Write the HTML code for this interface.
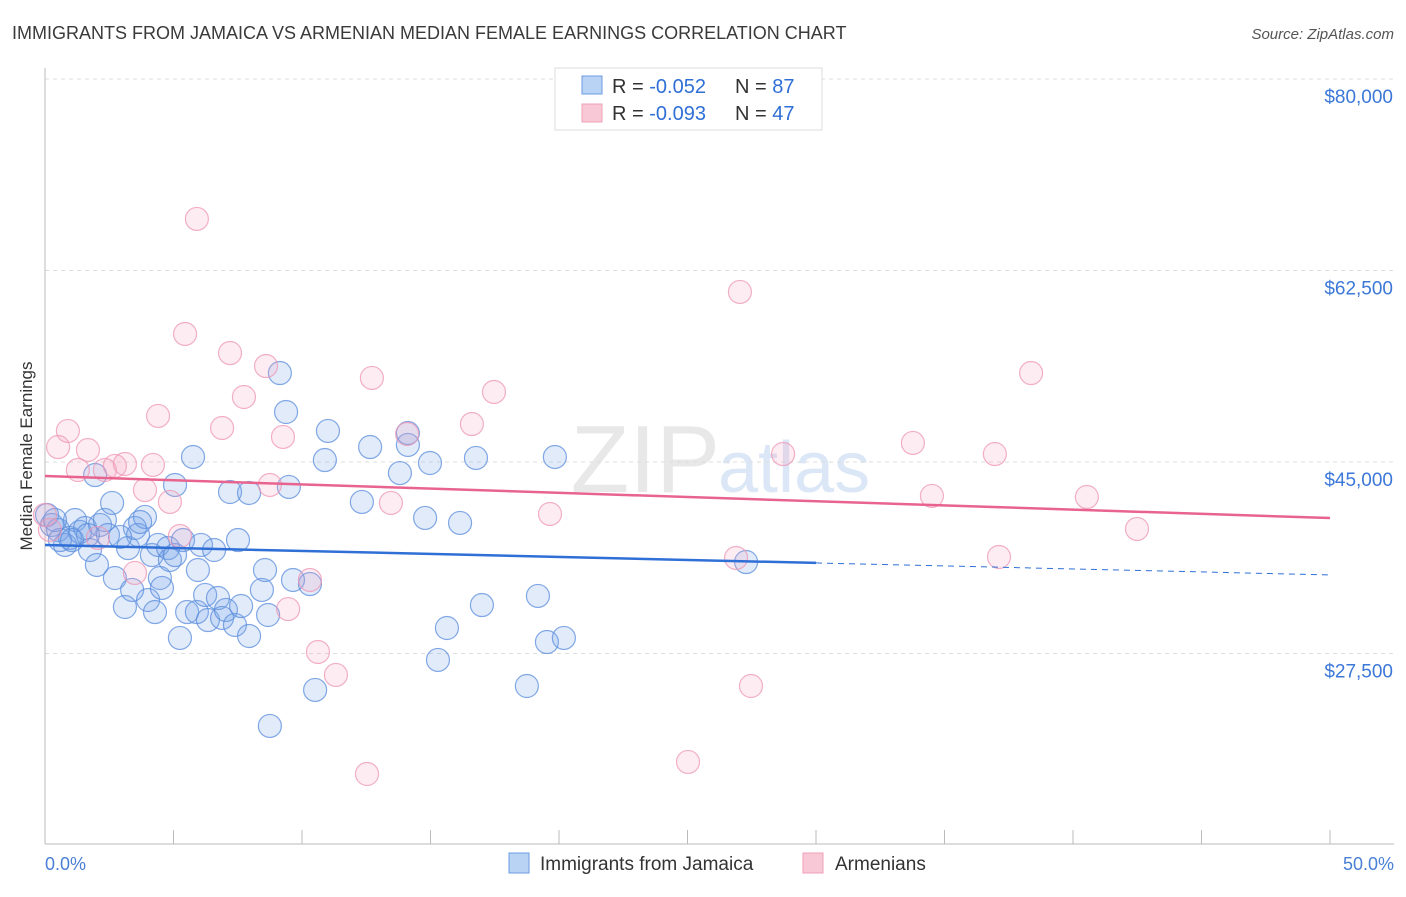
<!DOCTYPE html>
<html><head><meta charset="utf-8"><style>
body{margin:0;background:#fff;font-family:"Liberation Sans",sans-serif;}
svg text{font-family:"Liberation Sans",sans-serif;}
</style></head><body>
<svg id="chart" width="1406" height="892" viewBox="0 0 1406 892">
<text x="12" y="39" font-size="18" fill="#3a3a3a">IMMIGRANTS FROM JAMAICA VS ARMENIAN MEDIAN FEMALE EARNINGS CORRELATION CHART</text>
<text x="1394" y="39" font-size="15" fill="#555" font-style="italic" text-anchor="end">Source: ZipAtlas.com</text>
<text x="720" y="492" font-size="96" fill="#e8e8e8" text-anchor="end" font-family="Liberation Serif">ZIP</text>
<text x="718" y="492" font-size="72" fill="#dbe7f6">atlas</text>
<g id="grid"></g>
<g id="axes"></g>
<g id="pts"></g>
<g id="trends"></g>
<text transform="translate(32,456) rotate(-90)" font-size="17" fill="#333" text-anchor="middle">Median Female Earnings</text>
<text x="45" y="870" font-size="18" fill="#4a7fd6">0.0%</text>
<text x="1394" y="870" font-size="18" fill="#4a7fd6" text-anchor="end">50.0%</text>
<g>
<rect x="555" y="68" width="267" height="62" fill="#fff" stroke="#ddd"/>
<rect x="582" y="76" width="20" height="18" fill="#b9d3f5" stroke="#6a9be0"/>
<rect x="582" y="104" width="20" height="18" fill="#f9c8d6" stroke="#f0a0b8"/>
<text x="612" y="93" font-size="20" fill="#333">R = <tspan fill="#2f6fd6">-0.052</tspan><tspan x="735">N = </tspan><tspan fill="#2f6fd6">87</tspan></text>
<text x="612" y="120" font-size="20" fill="#333">R = <tspan fill="#2f6fd6">-0.093</tspan><tspan x="735">N = </tspan><tspan fill="#2f6fd6">47</tspan></text>
</g>
<g>
<rect x="509" y="853" width="20" height="20" fill="#b9d3f5" stroke="#6a9be0"/>
<text x="540" y="870" font-size="19" fill="#333">Immigrants from Jamaica</text>
<rect x="803" y="853" width="20" height="20" fill="#f9c8d6" stroke="#f0a0b8"/>
<text x="835" y="870" font-size="19" fill="#333">Armenians</text>
</g>
</svg>
<script>
const yTicks=[80000,62500,45000,27500];
const yTickLabels=["$80,000","$62,500","$45,000","$27,500"];
const xTicks=[0,5,10,15,20,25,30,35,40,45,50];
const blueX=[.08,.27,.51,.78,.97,1.17,1.36,1.56,1.75,1.95,2.02,2.14,2.33,2.45,2.61,2.72,3.11,3.23,3.39,3.5,3.62,3.89,4.01,4.16,4.28,4.4,4.47,4.55,4.79,4.86,5.06,5.06,5.25,5.37,5.53,5.76,5.91,5.95,6.07,6.23,6.34,6.58,6.73,6.89,7.04,7.2,7.39,7.51,7.63,7.94,7.94,8.44,8.56,8.68,8.75,9.14,9.38,9.49,9.65,10.31,10.51,10.89,11.01,12.33,12.65,13.81,14.12,14.12,14.79,14.98,15.29,15.64,16.15,16.77,17,18.75,19.18,19.53,19.84,20.19,27.28,.58,1.67,2.92,3.7,.39,1.05];
const blueY=[40.16,39.25,38.79,37.42,38.06,39.7,38.61,38.97,36.96,43.81,35.59,39.25,39.7,38.33,41.26,34.4,31.75,37.14,33.31,38.97,38.33,39.98,32.39,36.5,31.29,37.42,34.4,33.49,37.14,36.05,42.9,36.5,28.92,37.87,31.29,45.46,31.29,35.13,37.42,32.85,30.56,36.96,32.57,30.75,31.48,42.26,30.11,37.87,31.84,42.17,29.1,33.31,35.13,31.02,20.88,53.13,49.57,42.72,34.22,33.85,24.17,45.18,47.84,41.35,46.37,43.99,46.56,47.65,39.89,44.91,26.91,29.83,39.43,45.37,31.93,24.53,32.76,28.55,45.46,28.92,35.86,37.87,38.33,38.15,39.52,39.7,37.87];
const pinkX=[0,.19,.51,.89,1.28,1.67,2.06,2.33,2.72,3.11,3.5,3.89,4.2,4.4,4.86,5.25,5.45,5.91,6.89,7.2,7.74,8.6,8.75,9.26,9.46,10.31,10.62,11.32,12.53,12.72,13.46,14.09,16.61,17.47,19.65,25.02,26.89,27.04,27.47,28.72,33.77,34.51,36.96,37.12,38.37,40.54,42.49];
const pinkY=[40.16,38.79,46.37,47.84,44.27,46.1,38.06,44.27,44.64,44.82,34.86,42.44,44.73,49.21,41.35,38.24,56.7,67.21,48.11,54.96,50.94,53.77,42.9,47.29,31.56,34.22,27.64,25.54,16.49,52.68,41.26,47.56,48.47,51.4,40.25,17.59,36.23,60.54,24.53,45.73,46.74,41.9,45.73,36.32,53.13,41.8,38.88];
const blueTrend=[37.42,34.68];
const pinkTrend=[43.72,39.88];
const blueSolidEnd=30;
const NS="http://www.w3.org/2000/svg";
function sx(p){return 45+p/50*1285;}
function sy(v){return 79+(80000-v)/17500*191.5;}
function mk(tag,attrs,parent){const e=document.createElementNS(NS,tag);for(const k in attrs)e.setAttribute(k,attrs[k]);parent.appendChild(e);return e;}
const grid=document.getElementById('grid'),axes=document.getElementById('axes'),pts=document.getElementById('pts'),tr=document.getElementById('trends');
yTicks.forEach((t,i)=>{
 const l=mk('line',{x1:45,x2:1394,y1:sy(t),y2:sy(t),stroke:'#ddd','stroke-dasharray':'4,4'},grid);
 
 
 const tx=mk('text',{x:1393,y:sy(t)+24,'font-size':19,fill:'#3b78d8','text-anchor':'end'},grid);
 tx.textContent=yTickLabels[i];
 
 
});
const ya=mk('line',{x1:45,x2:45,y1:68,y2:844,stroke:'#bbb'},axes);


const xa=mk('line',{x1:45,x2:1394,y1:844,y2:844,stroke:'#bbb'},axes);


xTicks.forEach(t=>{
 const l=mk('line',{x1:sx(t),x2:sx(t),y1:830,y2:844,stroke:'#bbb'},axes);
 
 
});
blueX.forEach((x,i)=>{
 const c=mk('circle',{cx:sx(x),cy:sy(blueY[i]*1000),r:11.5,fill:'rgba(120,165,230,0.22)',stroke:'rgba(90,140,220,0.75)','stroke-width':1.2},pts);
 
 
});
pinkX.forEach((x,i)=>{
 const c=mk('circle',{cx:sx(x),cy:sy(pinkY[i]*1000),r:11.5,fill:'rgba(245,160,190,0.2)',stroke:'rgba(238,150,180,0.75)','stroke-width':1.2},pts);
 
 
});
function tv(a,p){return (a[0]+(a[1]-a[0])*p/50)*1000;}
const b1=mk('line',{x1:sx(0),y1:sy(tv(blueTrend,0)),x2:sx(blueSolidEnd),y2:sy(tv(blueTrend,blueSolidEnd)),stroke:'#2f6fd6','stroke-width':2.5},tr);


const b2=mk('line',{x1:sx(blueSolidEnd),y1:sy(tv(blueTrend,blueSolidEnd)),x2:sx(50),y2:sy(tv(blueTrend,50)),stroke:'#2f6fd6','stroke-width':1,'stroke-dasharray':'6,5'},tr);


const p1=mk('line',{x1:sx(0),y1:sy(tv(pinkTrend,0)),x2:sx(50),y2:sy(tv(pinkTrend,50)),stroke:'#e8648f','stroke-width':2.5},tr);


</script>
</body></html>
